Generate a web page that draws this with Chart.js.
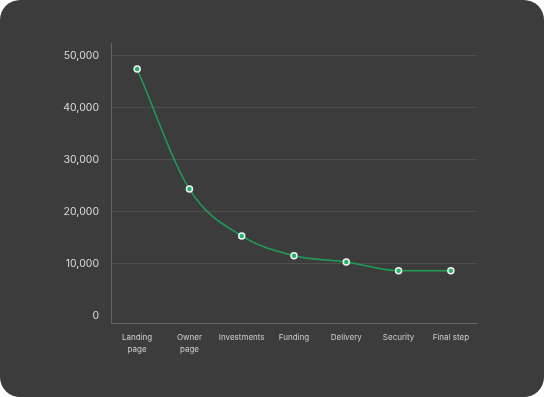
<!DOCTYPE html>
<html>
<head>
<meta charset="utf-8">
<script src="https://cdn.jsdelivr.net/npm/chart.js@4"></script>
<style>
    html, body {
        margin: 0;
        padding: 0;
        background: #ffffff;
    }
    .card {
        width: 544px;
        height: 397px;
        border-radius: 20px;
        background: #3c3c3c;
        overflow: hidden;
    }
</style>
</head>
<body>
<div class="card">
    <canvas id="funnelChart" width="544" height="397"></canvas>
</div>
<script>
const steps = [
    ['Landing', 'page'],
    ['Owner', 'page'],
    'Investments',
    'Funding',
    'Delivery',
    'Security',
    'Final step'
];
const visitors = [47500, 24400, 15400, 11600, 10400, 8700, 8700];
const yTicks = [0, 10000, 20000, 30000, 40000, 50000];

const ctx = document.getElementById('funnelChart').getContext('2d');
new Chart(ctx, {
    type: 'line',
    data: {
        labels: steps,
        datasets: [{
            data: visitors,
            borderColor: '#1f9e58',
            borderWidth: 1.5,
            cubicInterpolationMode: 'monotone',
            pointRadius: 3,
            pointBorderWidth: 1.5,
            pointBackgroundColor: '#22b566',
            pointBorderColor: '#f2f2f2',
            fill: false
        }]
    },
    options: {
        responsive: false,
        animation: false,
        layout: {
            padding: { left: 0, right: 67, top: 43, bottom: 0 }
        },
        plugins: {
            legend: { display: false },
            tooltip: { enabled: false }
        },
        scales: {
            x: {
                offset: true,
                grid: { display: false, drawTicks: false },
                border: { color: '#666666', width: 1 },
                ticks: {
                    color: '#cfcfcf',
                    padding: 9,
                    maxRotation: 0,
                    autoSkip: false,
                    font: { family: 'Inter', size: 8, lineHeight: 1.5 }
                },
                afterFit: function(scale) {
                    scale.height = 74;
                }
            },
            y: {
                min: -1350,
                max: 52500,
                afterBuildTicks: function(scale) {
                    scale.ticks = yTicks.map(v => ({ value: v }));
                },
                afterFit: function(scale) {
                    scale.width = 111;
                },
                grid: {
                    drawTicks: false,
                    color: function(c) {
                        return c.tick && c.tick.value === 0 ? 'rgba(0,0,0,0)' : '#505050';
                    }
                },
                border: { color: '#666666', width: 1 },
                ticks: {
                    color: '#dcdcdc',
                    padding: 12,
                    font: { family: 'Inter', size: 10.5 },
                    callback: function(value) {
                        return value.toLocaleString('en-US');
                    }
                }
            }
        }
    }
});
</script>
</body>
</html>
